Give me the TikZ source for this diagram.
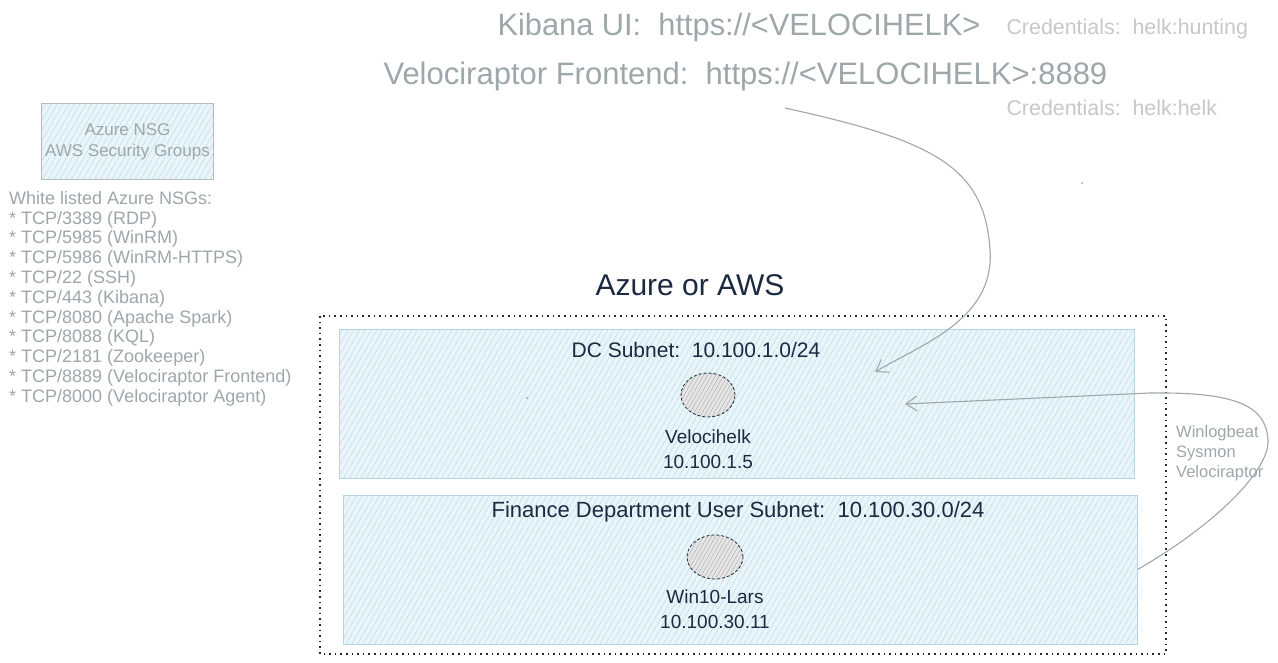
\documentclass[tikz,border=0pt]{standalone}
\usepackage{fontspec}
\setmainfont{Liberation Sans}
\usetikzlibrary{positioning,shapes.geometric,patterns.meta,arrows.meta}
\definecolor{navy}{HTML}{1B2A41}
\definecolor{txtgray}{HTML}{9EA7AA}
\definecolor{credgray}{HTML}{C8C8C8}
\definecolor{hatchbg}{HTML}{EAF5F9}
\definecolor{hatchln}{HTML}{B9DDEC}
\definecolor{boxln}{HTML}{B5D5E6}
\tikzset{
	subnet/.style={draw=boxln, line width=1pt, preaction={fill=hatchbg},
		pattern={Lines[angle=60,distance=5pt,line width=0.5pt]}, pattern color=hatchln},
	host/.style={ellipse, draw=navy, densely dashed, line width=0.8pt, preaction={fill=gray!20},
		pattern={Lines[angle=60,distance=3.5pt,line width=0.5pt]}, pattern color=gray!65},
	link/.style={->, draw=txtgray, line width=1.1pt, >={Straight Barb[length=11pt,width=15pt]}},
}
\begin{document}
\begin{tikzpicture}[x=1pt, y=-1pt]
	\useasboundingbox (0,0) rectangle (1278,663);
	\fill[white] (0,0) rectangle (1278,663);
	% Adresses en haut
	\node[anchor=west, txtgray, font=\fontsize{30.8}{36}\selectfont] (kibana) at (494,28) {Kibana UI:\ \ https://<VELOCIHELK>};
	\node[anchor=west, credgray, font=\fontsize{21.4}{25}\selectfont] (kibanacred) at (1003,29) {Credentials:\ \ helk:hunting};
	\node[anchor=west, txtgray, font=\fontsize{31}{36}\selectfont] (frontend) at (380,76) {Velociraptor Frontend:\ \ https://<VELOCIHELK>:8889};
	\node[anchor=west, credgray, font=\fontsize{21.4}{25}\selectfont] (frontendcred) at (1003,108) {Credentials:\ \ helk:helk};
	\fill[txtgray] (1082,183) circle (1pt);
	% Groupes de securite
	\node[draw=gray!55, line width=1pt, preaction={fill=hatchbg}, pattern={Lines[angle=60,distance=5pt,line width=0.5pt]},
		pattern color=hatchln, minimum width=169, minimum height=76, align=center, text=txtgray,
		font=\fontsize{17}{21}\selectfont] (nsg) at (127.5,142) {Azure NSG\\AWS Security Groups};
	\node[anchor=north west, align=left, txtgray, font=\fontsize{18}{19.8}\selectfont, inner sep=0pt] (whitelist) at (9,191) {%
		White listed Azure NSGs:\\
		* TCP/3389 (RDP)\\
		* TCP/5985 (WinRM)\\
		* TCP/5986 (WinRM-HTTPS)\\
		* TCP/22 (SSH)\\
		* TCP/443 (Kibana)\\
		* TCP/8080 (Apache Spark)\\
		* TCP/8088 (KQL)\\
		* TCP/2181 (Zookeeper)\\
		* TCP/8889 (Velociraptor Frontend)\\
		* TCP/8000 (Velociraptor Agent)};
	% Nuage
	\node[navy, font=\fontsize{30}{36}\selectfont] (title) at (690,285) {Azure or AWS};
	\draw[navy, line width=1.1pt, dash pattern=on 1.6pt off 4pt] (320,316) rectangle (1166,654);
	\node[subnet, minimum width=795, minimum height=149] (dcnet) at (736.5,403.5) {};
	\node[subnet, minimum width=794, minimum height=149] (finnet) at (740,569.5) {};
	\node[navy, font=\fontsize{21}{25}\selectfont] (dctitle) at (696,350) {DC Subnet:\ \ 10.100.1.0/24};
	\node[navy, font=\fontsize{22}{26}\selectfont] (fintitle) at (738,512) {Finance Department User Subnet:\ \ 10.100.30.0/24};
	\fill[txtgray] (527,398) circle (1.2pt);
	% Machines
	\node[host, minimum width=54, minimum height=44] (velo) at (708,395) {};
	\node[host, minimum width=56, minimum height=44] (win) at (715,557) {};
	\node[below=9pt of velo, navy, align=center, font=\fontsize{19}{25}\selectfont] (velolbl) {Velocihelk\\10.100.1.5};
	\node[below=7pt of win, navy, align=center, font=\fontsize{19}{25}\selectfont] (winlbl) {Win10-Lars\\10.100.30.11};
	% Fleches
	\coordinate (frontout) at (785,108);
	\coordinate (frontin) at (875,372);
	\coordinate (agentin) at (905,404);
	\draw[link] (frontout) .. controls (930,140) and (985,165) .. (990,250) .. controls (995,320) and (920,345) .. (frontin);
	\draw[link] (finnet.east) .. controls (1215,525) and (1270,470) .. (1268,440) .. controls (1266,405) and (1235,392) .. (1150,393) -- (agentin);
	\node[anchor=north west, align=left, txtgray, font=\fontsize{16.5}{20}\selectfont, inner sep=0pt] (agents) at (1176,425) {Winlogbeat\\Sysmon\\Velociraptor};
\end{tikzpicture}
\end{document}
